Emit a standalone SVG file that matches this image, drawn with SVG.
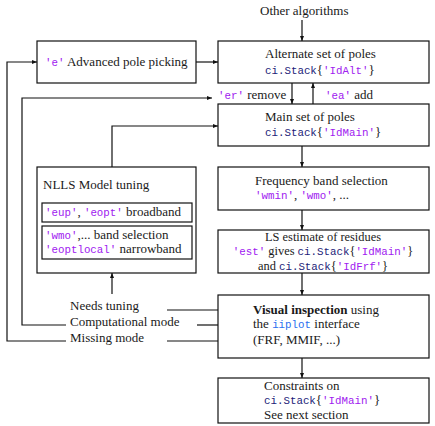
<svg xmlns="http://www.w3.org/2000/svg" width="435" height="426" viewBox="0 0 435 426">
<defs>
<marker id="ah" viewBox="0 0 6 6" refX="6" refY="3" markerWidth="5" markerHeight="5" markerUnits="userSpaceOnUse" orient="auto">
<path d="M0,0.6 L6,3 L0,5.4 Z" fill="#111"/>
</marker>
<style>
.box{fill:#fff;stroke:#111;stroke-width:1.2}
.t{font-family:"Liberation Serif","DejaVu Serif",serif;font-size:13px;fill:#1a1a1a}
.ls{font-size:12.4px}
.m{font-family:"Liberation Mono","DejaVu Sans Mono",monospace;font-size:10.8px}
.s{fill:#a020f0}
.c{fill:#1c1c78}
.b{fill:#2a6ff0}
.w{stroke:#111;stroke-width:1.2;fill:none}
.a{stroke:#111;stroke-width:1.2;fill:none;marker-end:url(#ah)}
</style>
</defs>
<rect width="435" height="426" fill="#fff"/>
<g id="connectors">
<path class="a" d="M302,20 V41"/>
<path class="a" d="M196,62 H218"/>
<path class="a" d="M292,83 V104"/>
<path class="a" d="M313,104 V83"/>
<path class="a" d="M302,146 V167"/>
<path class="a" d="M302,210 V230"/>
<path class="a" d="M302,273 V295"/>
<path class="a" d="M302,358 V378"/>
<path class="a" d="M112,167 V126 H218"/>
<path class="w" d="M218,310 H167"/>
<path class="a" d="M112,294 V273"/>
<path class="w" d="M218,325 H197"/>
<path class="a" d="M66,325 H22 V98 H212"/>
<path class="w" d="M218,341 H167"/>
<path class="a" d="M66,341 H7 V62 H37"/>
</g>
<g id="other">
<text class="t" x="260" y="15">Other algorithms</text>
</g>
<g id="advanced">
<rect class="box" x="37" y="41" width="159" height="42"/>
<text class="t" x="45" y="66"><tspan class="m s">'e'</tspan> Advanced pole picking</text>
</g>
<g id="alternate">
<rect class="box" x="218" y="41" width="211" height="42"/>
<text class="t" x="265" y="58">Alternate set of poles</text>
<text class="t" x="265" y="74"><tspan class="m c">ci.Stack</tspan>{<tspan class="m s">'IdAlt'</tspan>}</text>
</g>
<g id="labels">
<text class="t" x="218" y="99"><tspan class="m s">'er'</tspan> remove</text>
<text class="t" x="325" y="99"><tspan class="m s">'ea'</tspan> add</text>
</g>
<g id="main">
<rect class="box" x="218" y="104" width="211" height="42"/>
<text class="t" x="265" y="121">Main set of poles</text>
<text class="t" x="265" y="136"><tspan class="m c">ci.Stack</tspan>{<tspan class="m s">'IdMain'</tspan>}</text>
</g>
<g id="nlls">
<rect class="box" x="37" y="167" width="159" height="106"/>
<text class="t" x="43" y="189">NLLS Model tuning</text>
<rect class="box" x="42" y="203" width="150" height="19"/>
<text class="t" x="45" y="216"><tspan class="m s">'eup'</tspan>, <tspan class="m s">'eopt'</tspan> broadband</text>
<rect class="box" x="42" y="226" width="150" height="33"/>
<text class="t" x="45" y="239"><tspan class="m s">'wmo'</tspan>,... band selection</text>
<text class="t" x="45" y="253"><tspan class="m s">'eoptlocal'</tspan> narrowband</text>
</g>
<g id="frequency">
<rect class="box" x="218" y="167" width="211" height="43"/>
<text class="t" x="255" y="185">Frequency band selection</text>
<text class="t" x="255" y="199"><tspan class="m s">'wmin'</tspan>, <tspan class="m s">'wmo'</tspan>, ...</text>
</g>
<g id="ls">
<rect class="box" x="218" y="230" width="211" height="43"/>
<text class="t ls" x="323" y="240.5" text-anchor="middle">LS estimate of residues</text>
<text class="t ls" x="323" y="255" text-anchor="middle"><tspan class="m s">'est'</tspan> gives <tspan class="m c">ci.Stack</tspan>{<tspan class="m s">'IdMain'</tspan>}</text>
<text class="t ls" x="323" y="269.5" text-anchor="middle">and <tspan class="m c">ci.Stack</tspan>{<tspan class="m s">'IdFrf'</tspan>}</text>
</g>
<g id="tuning-labels">
<text class="t" x="70" y="310">Needs tuning</text>
<text class="t" x="70" y="326">Computational mode</text>
<text class="t" x="70" y="342">Missing mode</text>
</g>
<g id="visual">
<rect class="box" x="218" y="295" width="211" height="63"/>
<text class="t" x="253" y="314"><tspan font-weight="bold">Visual inspection</tspan> using</text>
<text class="t" x="253" y="328">the <tspan class="m b">iiplot</tspan> interface</text>
<text class="t" x="253" y="344">(FRF, MMIF, ...)</text>
</g>
<g id="constraints">
<rect class="box" x="218" y="378" width="211" height="45"/>
<text class="t" x="264" y="390">Constraints on</text>
<text class="t" x="264" y="404"><tspan class="m c">ci.Stack</tspan>{<tspan class="m s">'IdMain'</tspan>}</text>
<text class="t" x="264" y="419">See next section</text>
</g>
</svg>
